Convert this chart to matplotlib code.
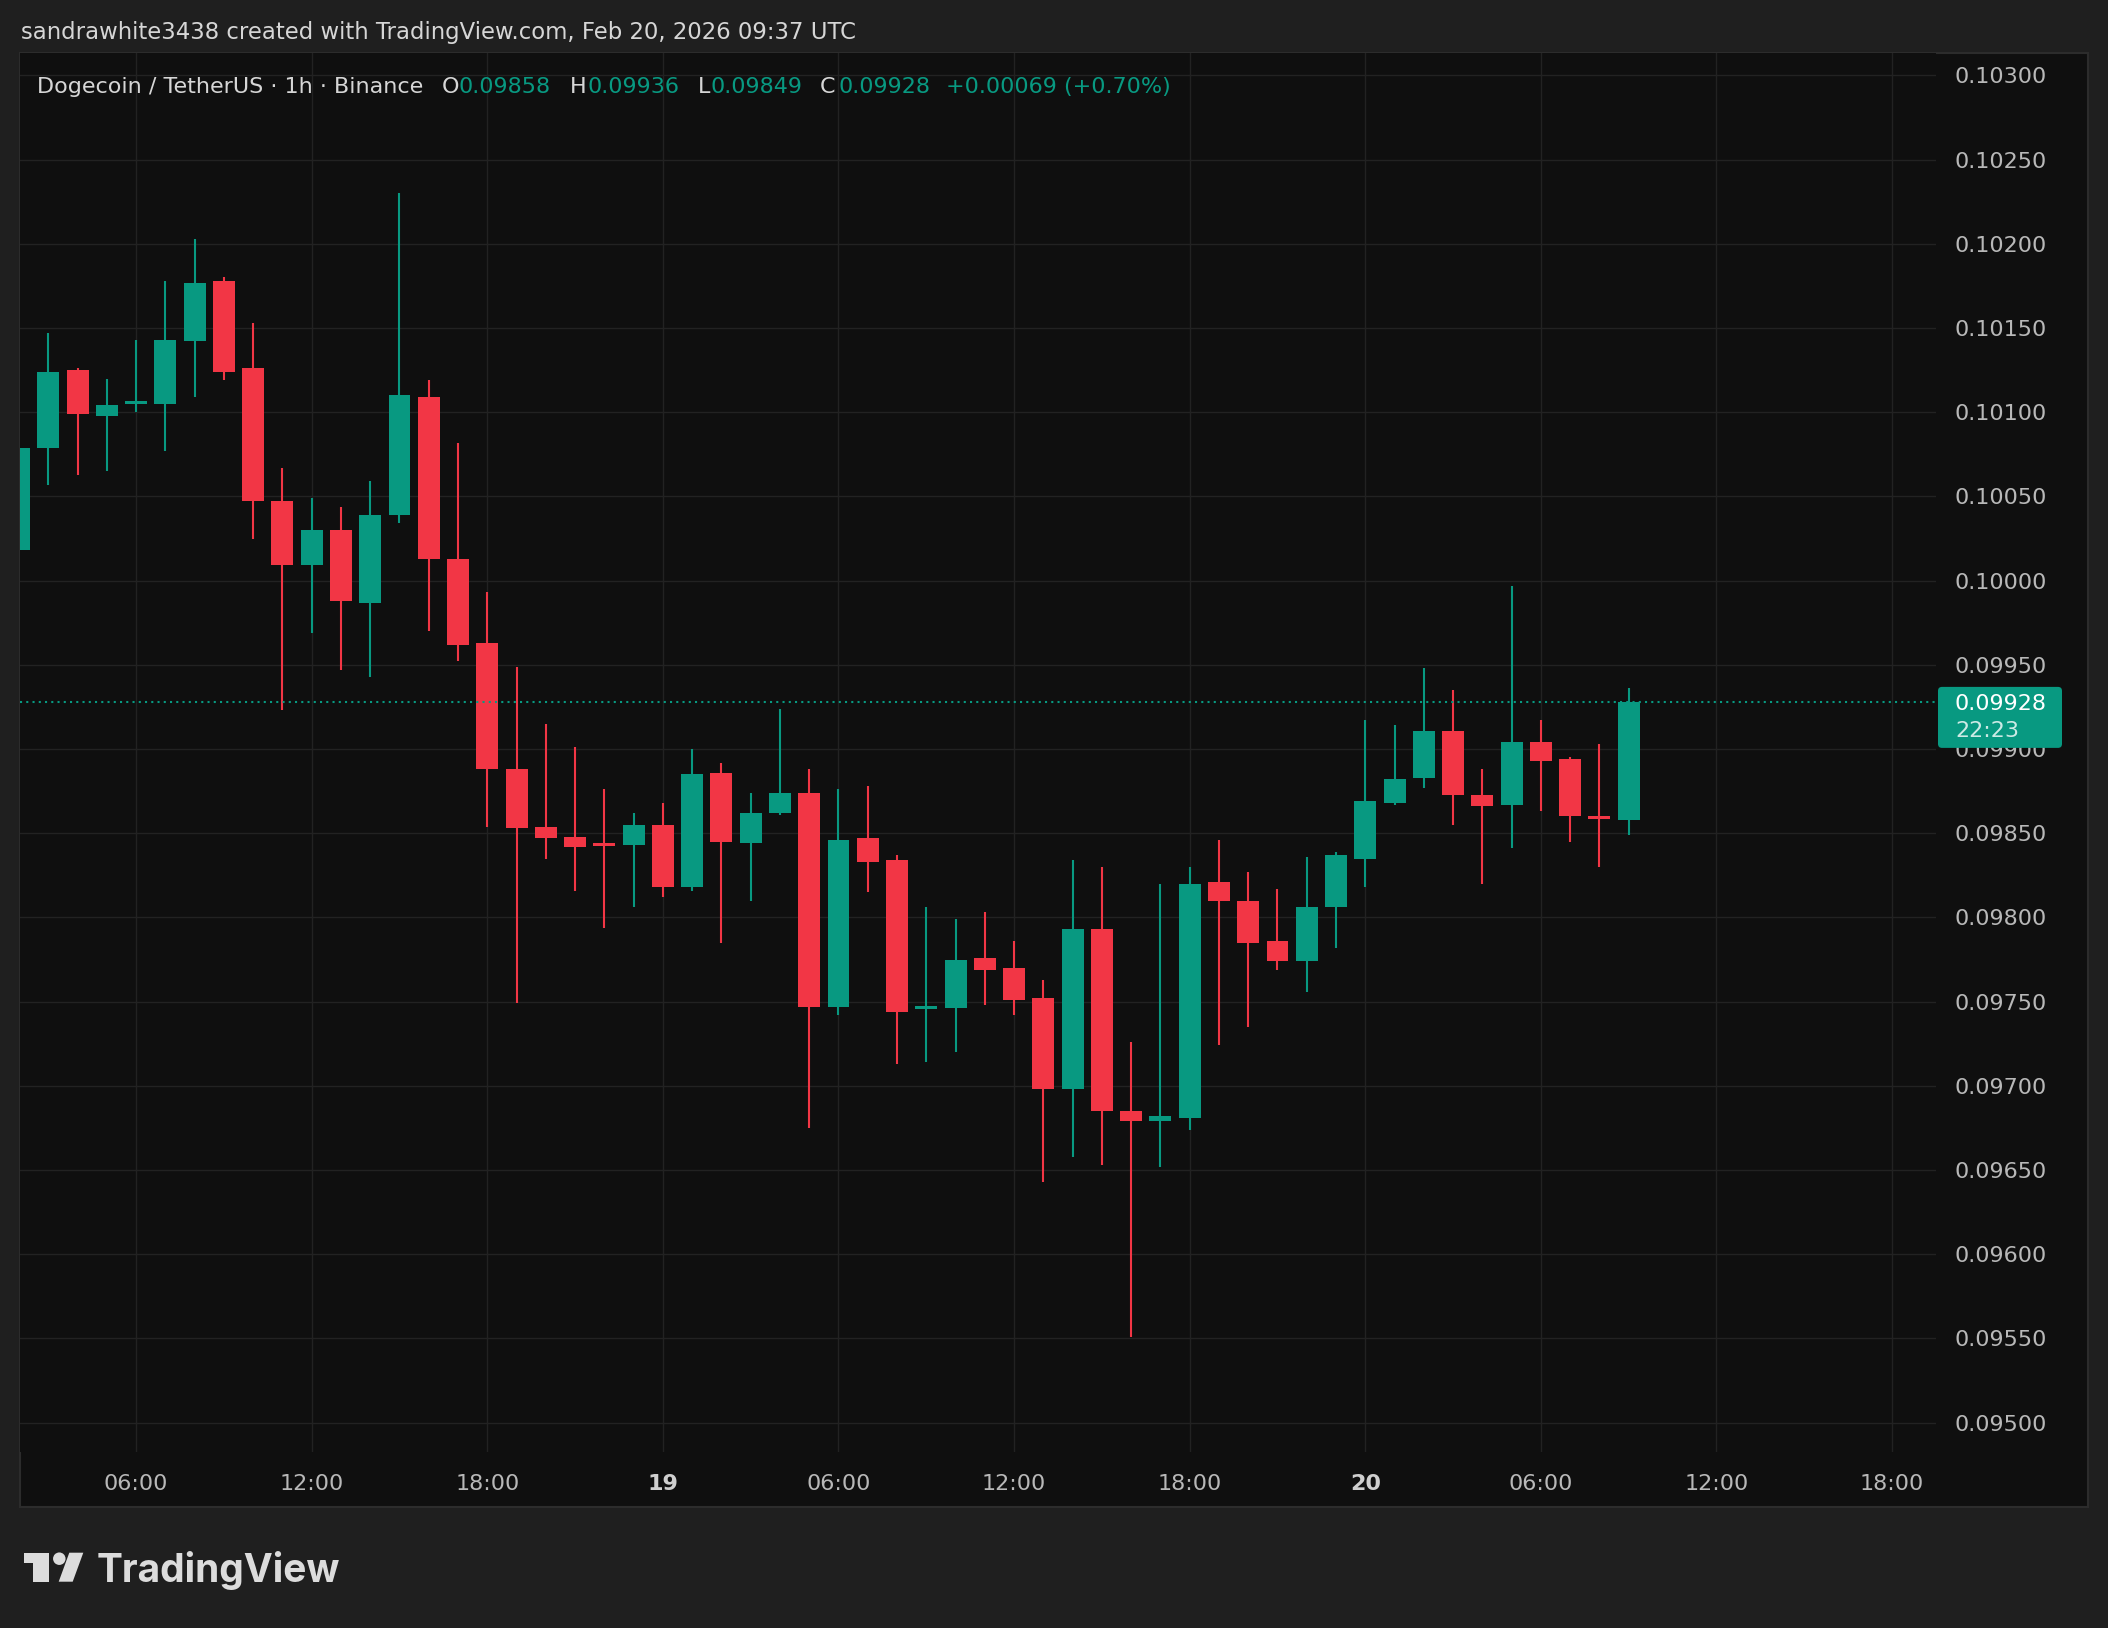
import matplotlib
matplotlib.use('Agg')
import matplotlib.pyplot as plt
import matplotlib.dates as mdates
import matplotlib.patches as mpatches
import matplotlib.transforms as mtransforms
import matplotlib.ticker as ticker
import numpy as np
import pandas as pd

# DOGE/USDT 1h candles, Binance, Feb 18 02:00 -> Feb 20 09:00 UTC
START = '2026-02-18 02:00'
opens = [0.10018, 0.10079, 0.10125, 0.10098, 0.10105, 0.10105, 0.10142, 0.10178,
         0.10126, 0.10047, 0.10009, 0.10030, 0.09987, 0.10039, 0.10109, 0.10013,
         0.09963, 0.09888, 0.09854, 0.09848, 0.09844, 0.09843, 0.09855, 0.09818,
         0.09886, 0.09844, 0.09862, 0.09874, 0.09747, 0.09847, 0.09834, 0.09746,
         0.09746, 0.09776, 0.09770, 0.09752, 0.09698, 0.09793, 0.09685, 0.09679,
         0.09681, 0.09821, 0.09810, 0.09786, 0.09774, 0.09806, 0.09835, 0.09868,
         0.09883, 0.09911, 0.09873, 0.09867, 0.09904, 0.09894, 0.09860, 0.09858]
highs = [0.10079, 0.10147, 0.10126, 0.10120, 0.10143, 0.10178, 0.10203, 0.10180,
         0.10153, 0.10067, 0.10049, 0.10044, 0.10059, 0.10230, 0.10119, 0.10082,
         0.09993, 0.09949, 0.09915, 0.09901, 0.09876, 0.09862, 0.09868, 0.09900,
         0.09892, 0.09874, 0.09924, 0.09888, 0.09876, 0.09878, 0.09837, 0.09806,
         0.09799, 0.09803, 0.09786, 0.09763, 0.09834, 0.09830, 0.09726, 0.09820,
         0.09830, 0.09846, 0.09827, 0.09817, 0.09836, 0.09839, 0.09917, 0.09914,
         0.09948, 0.09935, 0.09888, 0.09997, 0.09917, 0.09895, 0.09903, 0.09936]
lows = [0.10018, 0.10057, 0.10063, 0.10065, 0.10100, 0.10077, 0.10109, 0.10119,
        0.10025, 0.09923, 0.09969, 0.09947, 0.09943, 0.10034, 0.09970, 0.09952,
        0.09854, 0.09749, 0.09835, 0.09816, 0.09794, 0.09806, 0.09812, 0.09816,
        0.09785, 0.09810, 0.09861, 0.09675, 0.09742, 0.09815, 0.09713, 0.09714,
        0.09720, 0.09748, 0.09742, 0.09643, 0.09658, 0.09653, 0.09551, 0.09652,
        0.09674, 0.09724, 0.09735, 0.09769, 0.09756, 0.09782, 0.09818, 0.09867,
        0.09877, 0.09855, 0.09820, 0.09841, 0.09863, 0.09845, 0.09830, 0.09849]
closes = [0.10079, 0.10124, 0.10099, 0.10104, 0.10106, 0.10143, 0.10177, 0.10124,
          0.10047, 0.10009, 0.10030, 0.09988, 0.10039, 0.10110, 0.10013, 0.09962,
          0.09888, 0.09853, 0.09847, 0.09842, 0.09843, 0.09855, 0.09818, 0.09885,
          0.09845, 0.09862, 0.09874, 0.09747, 0.09846, 0.09833, 0.09744, 0.09747,
          0.09775, 0.09769, 0.09751, 0.09698, 0.09793, 0.09685, 0.09679, 0.09682,
          0.09820, 0.09810, 0.09785, 0.09774, 0.09806, 0.09837, 0.09869, 0.09882,
          0.09911, 0.09873, 0.09866, 0.09904, 0.09893, 0.09860, 0.09859, 0.09928]

TITLE = 'sandrawhite3438 created with TradingView.com, Feb 20, 2026 09:37 UTC'
PAIR = 'Dogecoin / TetherUS \u00b7 1h \u00b7 Binance'
OHLC_KEYS = ['O', 'H', 'L', 'C']
OHLC_VALS = ['0.09858', '0.09936', '0.09849', '0.09928']
CHANGE = '+0.00069 (+0.70%)'
LAST_PRICE = 0.09928
COUNTDOWN = '22:23'
TIME_TICKS = pd.date_range('2026-02-18 06:00', '2026-02-20 18:00', freq='6h')
TIME_LABELS = ['06:00', '12:00', '18:00', '19', '06:00', '12:00', '18:00',
               '20', '06:00', '12:00', '18:00']

GREEN = '#089981'
RED = '#f23645'
BG = '#1f1f1f'
PANEL = '#0f0f0f'
GRID = '#222222'
TXT = '#d6d6d6'
AXTXT = '#b8b8b8'

W, H = 2108, 1628


def fx(px):
    return px / W


def fy(py):
    return 1 - py / H


def main():
    fig = plt.figure(figsize=(W / 100, H / 100), dpi=100, facecolor=BG)

    # chart panel with its thin border
    fig.add_artist(mpatches.Rectangle((fx(20), fy(1507)), fx(2088) - fx(20), fy(53) - fy(1507),
                                      facecolor=PANEL, edgecolor='#2c2c2c', linewidth=1.5,
                                      transform=fig.transFigure, zorder=-1))

    ax = fig.add_axes([fx(20), fy(1452), fx(1936) - fx(20), fy(53) - fy(1452)])
    ax.set_facecolor(PANEL)
    for s in ax.spines.values():
        s.set_visible(False)

    times = pd.date_range(START, periods=len(opens), freq='h')
    x = mdates.date2num(times)
    o, hi, lo, c = (np.array(v) for v in (opens, highs, lows, closes))
    cols = np.where(c >= o, GREEN, RED)

    ymin, ymax = 0.094826, 0.103133
    ax.set_ylim(ymin, ymax)
    ax.set_xlim(mdates.date2num(pd.Timestamp('2026-02-18 02:02')),
                mdates.date2num(pd.Timestamp('2026-02-20 19:30')))

    min_body = 3 * (ymax - ymin) / 1399
    body = np.maximum(np.abs(c - o), min_body)
    mid = (o + c) / 2
    ax.vlines(x, lo, hi, colors=cols, linewidth=1.5, zorder=2)
    ax.bar(x, body, width=0.75 / 24, bottom=mid - body / 2, color=cols, linewidth=0, zorder=3)

    # last price line
    ax.axhline(LAST_PRICE, color=GREEN, linewidth=1.5, linestyle=(0, (1, 2)), zorder=4)

    # grid + axes
    ax.yaxis.set_major_locator(ticker.MultipleLocator(0.0005))
    ax.yaxis.set_major_formatter(ticker.FormatStrFormatter('%.5f'))
    ax.yaxis.tick_right()
    ax.tick_params(axis='y', length=0, pad=13.5, labelsize=16, labelcolor=AXTXT)
    ax.set_xticks(mdates.date2num(TIME_TICKS))
    ax.set_xticklabels(TIME_LABELS)
    ax.tick_params(axis='x', length=0, pad=16, labelsize=16, labelcolor=AXTXT)
    for lab in ax.get_xticklabels():
        if ':' not in lab.get_text():
            lab.set_fontweight('bold')
            lab.set_color('#cfcfcf')
    ax.grid(True, color=GRID, linewidth=1.0, zorder=0)
    ax.set_axisbelow(True)

    # header
    fig.text(fx(21), fy(32), TITLE, color=TXT, fontsize=16.4, va='center', ha='left')
    base_y = fy(93)
    fig.text(fx(36.7), base_y, PAIR, color=TXT, fontsize=16, va='baseline')
    key_x = [441.5, 570, 698, 820]
    val_x = [459, 587.6, 710, 838]
    for k, v, kx, vx in zip(OHLC_KEYS, OHLC_VALS, key_x, val_x):
        fig.text(fx(kx), base_y, k, color=TXT, fontsize=16, va='baseline')
        fig.text(fx(vx), base_y, v, color=GREEN, fontsize=16, va='baseline')
    fig.text(fx(946), base_y, CHANGE, color=GREEN, fontsize=16, va='baseline')

    # last price tag on the price scale
    py = ax.transData.transform((x[-1], LAST_PRICE))[1]
    tag = mpatches.FancyBboxPatch((1938, py - 46), 124, 61,
                                  boxstyle='round,pad=0,rounding_size=4',
                                  facecolor=GREEN, edgecolor='none',
                                  transform=mtransforms.IdentityTransform(), zorder=5)
    fig.add_artist(tag)
    fig.text(fx(1955), (py - 2) / H, f'{LAST_PRICE:.5f}', color='white', fontsize=16,
             va='center', ha='left', zorder=6)
    fig.text(fx(1955), (py - 29) / H, COUNTDOWN, color='white', alpha=0.8, fontsize=16,
             va='center', ha='left', zorder=6)

    # TradingView logo
    logo = '#dcdcdc'
    fig.add_artist(mpatches.Polygon([(fx(24), fy(1552.7)), (fx(49.3), fy(1552.7)),
                                     (fx(49.3), fy(1581.7)), (fx(33.3), fy(1581.7)),
                                     (fx(33.3), fy(1563.3)), (fx(24), fy(1563.3))],
                                    closed=True, facecolor=logo, edgecolor='none',
                                    transform=fig.transFigure))
    fig.add_artist(mpatches.Ellipse((fx(59.3), fy(1558.7)), 12.5 / W, 12.5 / H,
                                    facecolor=logo, edgecolor='none', transform=fig.transFigure))
    fig.add_artist(mpatches.Polygon([(fx(69.3), fy(1552.7)), (fx(83.3), fy(1552.7)),
                                     (fx(72.7), fy(1581.7)), (fx(58.7), fy(1581.7))],
                                    closed=True, facecolor=logo, edgecolor='none',
                                    transform=fig.transFigure))
    fig.text(fx(97), fy(1581.7), 'TradingView', color=logo, fontsize=28,
             fontweight='bold', family='Inter', va='baseline', ha='left')

    fig.savefig('out.png', dpi=100, facecolor=BG)


if __name__ == '__main__':
    main()
